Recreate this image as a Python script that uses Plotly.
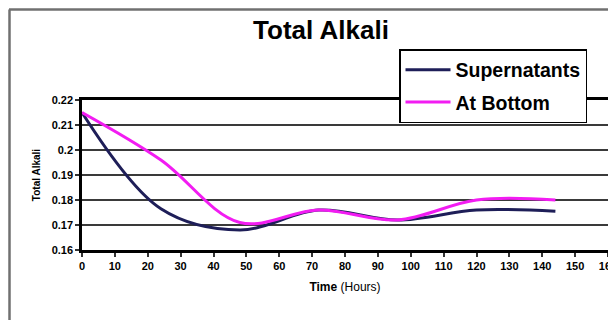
import plotly.graph_objects as go

hours = [0, 24, 48, 72, 96, 120, 144]
supernatants = [0.215, 0.1765, 0.168, 0.176, 0.172, 0.176, 0.1755]
at_bottom = [0.215, 0.196, 0.171, 0.176, 0.172, 0.180, 0.180]

y_tickvals = [0.16, 0.17, 0.18, 0.19, 0.20, 0.21, 0.22]
y_ticktext = ["0.16", "0.17", "0.18", "0.19", "0.2", "0.21", "0.22"]
x_tickvals = [0, 10, 20, 30, 40, 50, 60, 70, 80, 90, 100, 110, 120, 130, 140, 150, 160]

# page body has an 8px default margin, so the figure is drawn 8px in from the window corner
OFF = 8
W, H = 616 - OFF, 320 - OFF
ML, MR, MT, MB = 82 - OFF, 8, 100 - OFF, 70
PW, PH = W - ML - MR, H - MT - MB

def px_x(p):
    return (p - OFF - ML) / PW

def px_y(p):
    return (H - MB - (p - OFF)) / PH

fig = go.Figure()
fig.add_trace(go.Scatter(x=hours, y=supernatants, name="Supernatants", mode="lines",
                         line=dict(color="#1e1e58", width=3, shape="spline"),
                         legendgroup="a"))
fig.add_trace(go.Scatter(x=hours, y=at_bottom, name="At Bottom", mode="lines",
                         line=dict(color="#f21cf2", width=3, shape="spline"),
                         legendgroup="b"))

font_family = "Liberation Sans, Arial, sans-serif"

fig.update_layout(
    width=W, height=H,
    margin=dict(l=ML, r=MR, t=MT, b=MB, autoexpand=False),
    paper_bgcolor="white", plot_bgcolor="white",
    font=dict(family=font_family, color="black"),
    title=dict(text="<b>Total Alkali</b>", x=(321 - OFF) / W, xref="container", xanchor="center",
               y=1 - (30 - OFF) / H, yref="container", yanchor="middle",
               font=dict(size=26, family=font_family, color="black")),
    showlegend=True,
    legend=dict(x=px_x(399), y=px_y(49), xanchor="left", yanchor="top",
                bgcolor="white", bordercolor="black", borderwidth=1.5,
                font=dict(size=19.5, family=font_family, color="black", weight="bold"),
                traceorder="grouped", tracegroupgap=4, itemwidth=45),
    xaxis=dict(range=[0, 160], tickvals=x_tickvals,
               tickfont=dict(size=11, weight="bold"), ticklabeloverflow="allow",
               showgrid=False, zeroline=False,
               showline=True, mirror=True, linecolor="black", linewidth=2.5,
               ticks="outside", ticklen=4, tickwidth=1.5, tickcolor="#333",
               title=dict(text="<b>Time</b> (Hours)", font=dict(size=12), standoff=12)),
    yaxis=dict(range=[0.16, 0.22], tickvals=y_tickvals, ticktext=y_ticktext,
               tickfont=dict(size=11, weight="bold"),
               showgrid=True, gridcolor="#3a3a3a", gridwidth=2, zeroline=False,
               showline=True, mirror=True, linecolor="black", linewidth=2.5,
               ticks="outside", ticklen=4, tickwidth=1.5, tickcolor="#333",
               title=dict(text="<b>Total Alkali</b>", font=dict(size=10), standoff=10)),
    shapes=[
        dict(type="line", xref="paper", yref="paper", x0=px_x(9), x1=px_x(625),
             y0=px_y(9.5), y1=px_y(9.5), line=dict(color="#707070", width=2.5)),
        dict(type="line", xref="paper", yref="paper", x0=px_x(9.5), x1=px_x(9.5),
             y0=px_y(9.5), y1=px_y(330), line=dict(color="#707070", width=2.5)),
    ],
)

fig.write_html("out.html")
